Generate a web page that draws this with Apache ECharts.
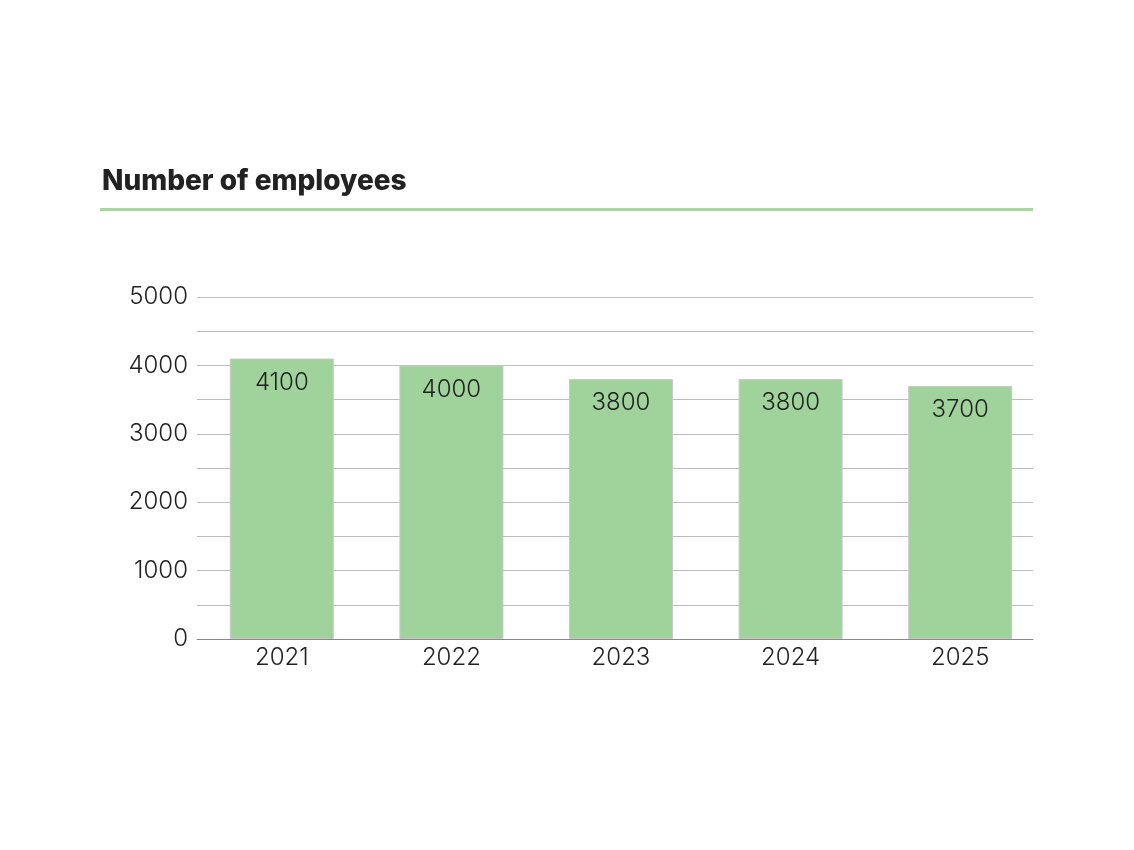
<!DOCTYPE html>
<html>
<head>
<meta charset="utf-8">
<title>Number of employees</title>
<script src="https://cdn.jsdelivr.net/npm/echarts@6/dist/echarts.min.js"></script>
<style>
  html, body { margin: 0; padding: 0; background: #fff; }
  #chart { width: 1134px; height: 850px; }
</style>
</head>
<body>
<div id="chart"></div>
<script>
// data
var years = ['2021', '2022', '2023', '2024', '2025'];
var employees = [4100, 4000, 3800, 3800, 3700];

var font = 'Inter, Lato, "Noto Sans", sans-serif';
var txt = { fontFamily: font, fontSize: 24, fontWeight: 300, color: '#222' };

var chart = echarts.init(document.getElementById('chart'));
chart.setOption({
  backgroundColor: '#fff',
  animation: false,
  title: {
    text: 'Number of employees',
    left: 97,
    top: 163,
    textStyle: { fontFamily: font, fontSize: 28, fontWeight: 800, color: '#222' }
  },
  // green rule under the title
  graphic: [{
    type: 'rect',
    shape: { x: 100, y: 208, width: 933, height: 3 },
    style: { fill: '#a8d8a0' }
  }],
  // grid 0: gridlines + y labels + base line; grid 1: the bars (a bit wider)
  grid: [
    { left: 197, right: 101, top: 297, bottom: 211 },
    { left: 197, right: 89, top: 297, bottom: 211 }
  ],
  xAxis: [{
    type: 'category', gridIndex: 0,
    data: years,
    axisLine: { lineStyle: { color: '#888', width: 1 } },
    axisTick: { show: false },
    axisLabel: { show: false }
  }, {
    type: 'category', gridIndex: 1,
    data: years,
    axisLine: { show: false },
    axisTick: { show: false },
    axisLabel: Object.assign({ margin: 7 }, txt)
  }],
  yAxis: [{
    type: 'value', gridIndex: 0,
    min: 0, max: 5000, interval: 500,
    axisLine: { show: false },
    axisTick: { show: false },
    splitLine: { lineStyle: { color: '#bdbdbd', width: 1 } },
    axisLabel: Object.assign({
      margin: 9,
      formatter: function (v) { return v % 1000 === 0 ? String(v) : ''; }
    }, txt)
  }, {
    type: 'value', gridIndex: 1,
    min: 0, max: 5000, interval: 500,
    show: false,
    splitLine: { show: false }
  }],
  series: [{
    type: 'bar',
    xAxisIndex: 1, yAxisIndex: 1,
    data: employees,
    barWidth: 104,
    itemStyle: { color: '#a0d39b', borderColor: '#c8c8c8', borderWidth: 1 },
    label: Object.assign({ show: true, position: 'insideTop', distance: 12 }, txt)
  }]
});
</script>
</body>
</html>
